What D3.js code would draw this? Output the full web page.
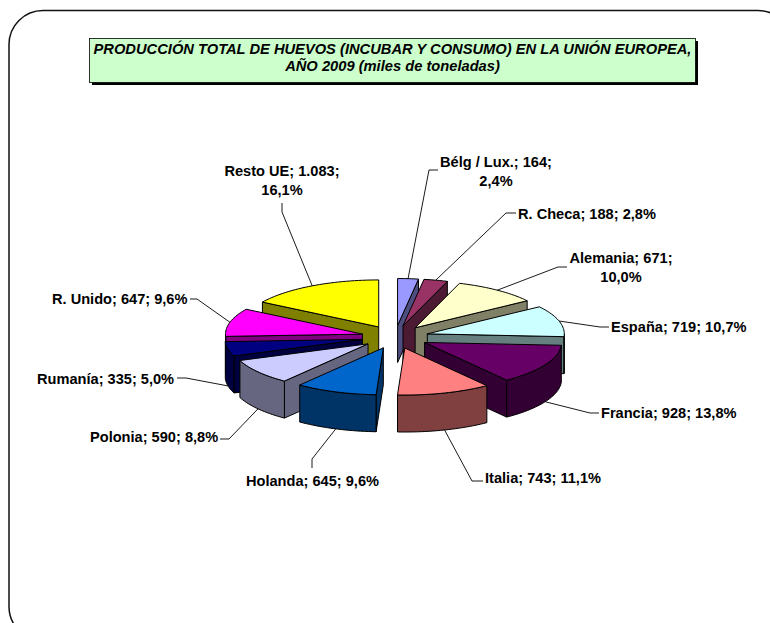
<!DOCTYPE html>
<html><head><meta charset="utf-8">
<script src="https://cdn.jsdelivr.net/npm/d3@7"></script>
<style>html,body{margin:0;padding:0;background:#fff}svg{display:block}text{font-family:"Liberation Sans",Arial,sans-serif;font-weight:bold;font-size:14.6px;fill:#000}</style>
</head><body><svg id="c" width="770" height="623"></svg>
<script>
const categories=["Bélg / Lux.","R. Checa","Alemania","España","Francia","Italia","Holanda","Polonia","Rumanía","R. Unido","Resto UE"];
const values=[164,188,671,719,928,743,645,590,335,647,1083];
const valueLabels=["164","188","671","719","928","743","645","590","335","647","1.083"];
const percents=["2,4%","2,8%","10,0%","10,7%","13,8%","11,1%","9,6%","8,8%","5,0%","9,6%","16,1%"];
const colors=["#9999FF","#993366","#FFFFCC","#CCFFFF","#660066","#FF8080","#0066CC","#CCCCFF","#000080","#FF00FF","#FFFF00"];
const titleLines=["PRODUCCIÓN TOTAL DE HUEVOS (INCUBAR Y CONSUMO) EN LA UNIÓN EUROPEA,","AÑO 2009 (miles de toneladas)"];

// label layout: anchor, text x, first baseline, line break, leader elbow points
const labelLayout=[
 {a:"middle",x:496,y:167,wrap:true, elbow:[[429,170],[438,170]]},
 {a:"start", x:518,y:219,wrap:false,elbow:[[506,213],[516,213]]},
 {a:"middle",x:621,y:263,wrap:true, elbow:[[558,267],[567,267]]},
 {a:"start", x:611,y:332,wrap:false,elbow:[[600,327],[609,327]]},
 {a:"start", x:601,y:418,wrap:false,elbow:[[590,413],[599,413]]},
 {a:"start", x:485,y:483,wrap:false,elbow:[[472,481],[483,481]]},
 {a:"start", x:246,y:486,wrap:false,elbow:[[312,459],[312,468]]},
 {a:"start", x:90, y:442,wrap:false,elbow:[[229,439],[220,439]]},
 {a:"start", x:37, y:384,wrap:false,elbow:[[186,378],[177,378]]},
 {a:"start", x:52, y:304,wrap:false,elbow:[[197,299],[190,299]]},
 {a:"middle",x:282,y:176,wrap:true, elbow:[[282,212],[282,203]]}
];

const svg=d3.select("#c");
const cx=395,cy=337,rx=137,ry=47,depth=37,explode=0.245;

// frame
svg.append("rect").attr("x",9).attr("y",10.5).attr("width",783).attr("height",630).attr("rx",34).attr("ry",34)
  .attr("fill","#fff").attr("stroke","#111").attr("stroke-width",1.5);

// title
svg.append("rect").attr("x",92).attr("y",41).attr("width",606).attr("height",44).attr("fill","#000");
svg.append("rect").attr("x",89.5).attr("y",38.5).attr("width",606).attr("height",44).attr("fill","#CCFFCC").attr("stroke","#000").attr("stroke-width",.8);
svg.selectAll("text.t").data(titleLines).join("text").attr("class","t").attr("x",392.5).attr("y",(d,i)=>54+i*16.5)
  .attr("text-anchor","middle").style("font-style","italic").style("font-size","14.7px").text(d=>d);

// pie
const pie=d3.pie().value(d=>d).sort(null).startAngle(0).endAngle(2*Math.PI);
const arcs=pie(values).map((d,i)=>{
  const mid=(d.startAngle+d.endAngle)/2;
  const ox=cx+rx*explode*Math.sin(mid), oy=cy-ry*explode*Math.cos(mid);
  return {i,a0:d.startAngle,a1:d.endAngle,mid,ox,oy};
});
const pt=(s,a,dz=0)=>[s.ox+rx*Math.sin(a), s.oy-ry*Math.cos(a)+dz];
const sample=(s,a0,a1,dz=0)=>{
  const n=Math.max(2,Math.ceil((a1-a0)/0.03));
  return d3.range(n+1).map(k=>pt(s,a0+(a1-a0)*k/n,dz));
};
const line=d3.line();
const dark=c=>{const r=d3.rgb(c);return d3.rgb(r.r*.5,r.g*.5,r.b*.5).formatHex();};
const order=arcs.slice().sort((p,q)=>Math.cos(q.mid)-Math.cos(p.mid));
const g=svg.append("g").attr("stroke","#000").attr("stroke-width",1).attr("stroke-linejoin","round");
order.forEach(s=>{
  const col=colors[s.i], wall=dark(col);
  const top=[[s.ox,s.oy],...sample(s,s.a0,s.a1)];
  const quad=(p,q)=>g.append("path").attr("fill",wall).attr("d",line([p,q,[q[0],q[1]+depth],[p[0],p[1]+depth]])+"Z");
  if(Math.sin(s.a0)<0) quad([s.ox,s.oy],pt(s,s.a0));
  if(Math.sin(s.a1)>0) quad([s.ox,s.oy],pt(s,s.a1));
  const w0=Math.max(s.a0,Math.PI/2), w1=Math.min(s.a1,3*Math.PI/2);
  if(w1>w0){
    const upper=sample(s,w0,w1), lower=sample(s,w0,w1,depth).reverse();
    g.append("path").attr("fill",wall).attr("d",line([...upper,...lower])+"Z");
  }
  g.append("path").attr("fill",col).attr("d",line(top)+"Z");
});

// labels and leaders
const leaderStart=(s)=>pt(s,s.mid,Math.cos(s.mid)<0?depth:0);
arcs.forEach((s,i)=>{
  const L=labelLayout[i];
  svg.append("path").attr("fill","none").attr("stroke","#000").attr("stroke-width",.9)
    .attr("d",line([leaderStart(s),...L.elbow]));
  const first=`${categories[i]}; ${valueLabels[i]};`;
  const t=svg.append("text").attr("text-anchor",L.a).attr("x",L.x).attr("y",L.y);
  if(L.wrap){
    t.append("tspan").attr("x",L.x).text(first);
    t.append("tspan").attr("x",L.x).attr("dy",18.5).text(percents[i]);
  } else t.text(`${first} ${percents[i]}`);
});
</script></body></html>
